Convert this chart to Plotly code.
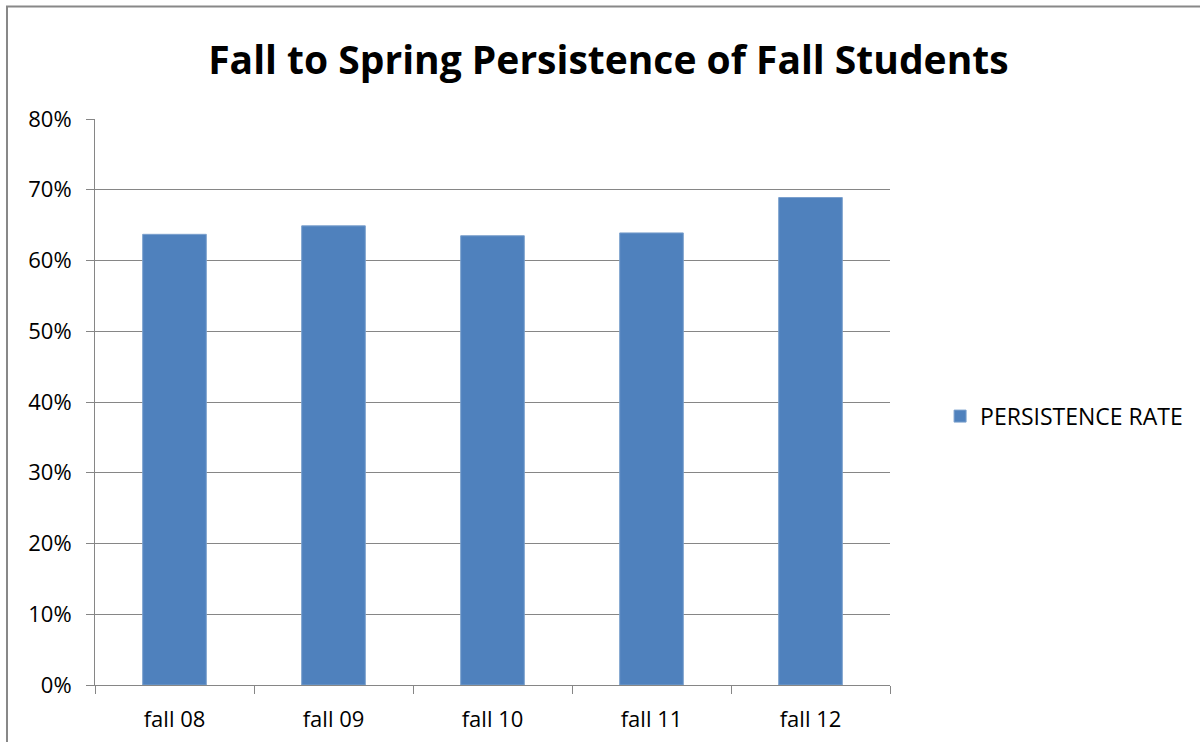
import plotly.graph_objects as go

categories = ["fall 08", "fall 09", "fall 10", "fall 11", "fall 12"]
persistence_rate = [0.637, 0.649, 0.635, 0.639, 0.689]
y_ticks = [0, 0.1, 0.2, 0.3, 0.4, 0.5, 0.6, 0.7, 0.8]
y_tick_labels = ["0%", "10%", "20%", "30%", "40%", "50%", "60%", "70%", "80%"]

FONT = "Open Sans"
GRID = "#868686"

fig = go.Figure()
fig.add_trace(go.Bar(
    x=categories, y=persistence_rate, name="PERSISTENCE RATE",
    marker=dict(color="#4F81BD", line=dict(color="#7BA0CD", width=1)),
    width=0.4,
))

fig.update_layout(
    width=1200, height=742,
    paper_bgcolor="white", plot_bgcolor="white",
    margin=dict(l=95, r=310, t=119, b=57),
    title=dict(text="<b>Fall to Spring Persistence of Fall Students</b>",
               x=0.507, xanchor="center", y=0.919, yanchor="middle",
               font=dict(family=FONT, size=39, color="black")),
    showlegend=True,
    legend=dict(x=1.063, xanchor="left", y=0.475, yanchor="middle",
                font=dict(family=FONT, size=23, color="black"),
                bgcolor="rgba(0,0,0,0)", itemwidth=30),
    bargap=0.6,
    xaxis=dict(showline=True, linecolor=GRID, linewidth=1,
               ticks="outside", tickson="boundaries", ticklen=8, tickcolor=GRID,
               tickfont=dict(family=FONT, size=22, color="black"),
               ticklabelstandoff=15, automargin=False,
               showgrid=False),
    yaxis=dict(range=[0, 0.8], tickvals=y_ticks, ticktext=y_tick_labels,
               showline=True, linecolor=GRID, linewidth=1,
               ticks="outside", ticklen=8, tickcolor=GRID,
               showgrid=True, gridcolor=GRID, gridwidth=1,
               zeroline=False, ticklabelstandoff=10, automargin=False,
               tickfont=dict(family=FONT, size=22, color="black")),
    shapes=[dict(type="rect", xref="paper", yref="paper",
                 x0=-0.1107, x1=1.5, y0=-0.5, y1=1.1988,
                 line=dict(color="#888888", width=2), layer="below")],
)

fig.write_html("out.html", config={"displayModeBar": False},
               post_script="document.body.style.margin='0';")
